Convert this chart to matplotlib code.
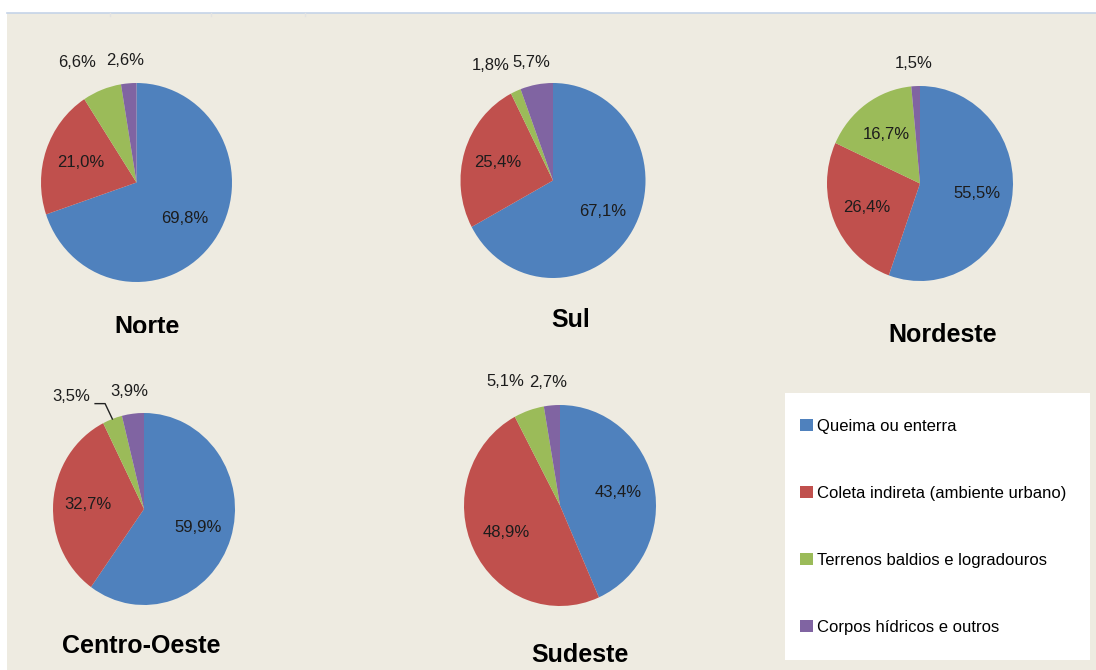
import matplotlib
matplotlib.use('Agg')
import matplotlib.pyplot as plt
import numpy as np
from matplotlib.patches import Rectangle, Patch
from matplotlib.lines import Line2D
from matplotlib.transforms import Bbox, TransformedBbox

# dados (%)
categorias = ['Queima ou enterra', 'Coleta indireta (ambiente urbano)',
              'Terrenos baldios e logradouros', 'Corpos hídricos e outros']
regioes = ['Norte', 'Sul', 'Nordeste', 'Centro-Oeste', 'Sudeste']
norte = [69.8, 21.0, 6.6, 2.6]
sul = [67.1, 25.4, 1.8, 5.7]
nordeste = [55.5, 26.4, 16.7, 1.5]
centro_oeste = [59.9, 32.7, 3.5, 3.9]
sudeste = [43.4, 48.9, 5.1, 2.7]
valores = [norte, sul, nordeste, centro_oeste, sudeste]

cores = ['#4F81BD', '#C0504D', '#9BBB59', '#8064A2']
fundo = '#EEEBE1'

W, H = 1096, 670

# posicao de cada pizza em pixels: centro x, centro y, raio x, raio y
caixas = [(136.5, 182.5, 95.5, 99.5),
          (553, 180.5, 92.5, 97.5),
          (920, 183.5, 93, 97.5),
          (144, 509, 91, 96),
          (560, 505.5, 96, 100.5)]
pos_titulos = [(147, 327), (571, 320), (943, 335), (141, 646), (580, 655)]

# rotulos pequenos ficam fora da pizza (desvio de angulo, distancia)
desvio_fora = [None, None, (6, 1.36), (0.7, 1.23)]

plt.rcParams['font.family'] = ['Liberation Sans', 'DejaVu Sans']


def fx(px):
    return px / W


def fy(py):
    return 1 - py / H


def fmt(v):
    return ('%.1f%%' % v).replace('.', ',')


fig = plt.figure(figsize=(W / 100, H / 100), dpi=100, facecolor='white')

# fundo bege e linha superior
fig.patches.append(Rectangle((fx(7), 0), 1 - fx(7), fy(13), transform=fig.transFigure,
                             facecolor=fundo, edgecolor='none', zorder=-10))
fig.lines.append(Line2D([fx(7), 1], [fy(12.5), fy(12.5)], transform=fig.transFigure,
                        color='#C5D3E8', lw=1.2, zorder=-9))
for xs in [110, 211, 305]:
    fig.lines.append(Line2D([fx(xs), fx(xs)], [fy(13), fy(16)], transform=fig.transFigure,
                            color='#E2E2E2', lw=1, zorder=-9))

for k, (nome, vals) in enumerate(zip(regioes, valores)):
    cx, cy, rx, ry = caixas[k]
    ax = fig.add_axes([fx(cx - rx), fy(cy + ry), 2 * rx / W, 2 * ry / H])
    wedges, _ = ax.pie(vals, colors=cores, startangle=90, counterclock=False,
                       wedgeprops=dict(linewidth=0))
    ax.set_xlim(-1, 1)
    ax.set_ylim(-1, 1)
    ax.set_aspect('auto')
    ax.axis('off')

    for i, (w, v) in enumerate(zip(wedges, vals)):
        meio = (w.theta1 + w.theta2) / 2
        if v >= 10:
            ang, dist = meio, 0.62
        else:
            da, dist = desvio_fora[i]
            ang = meio + da
            if nome == 'Centro-Oeste' and i == 2:
                ang, dist = meio + 14, 1.42
                ex, ey = np.cos(np.radians(meio)), np.sin(np.radians(meio))
                ax.plot([ex - 0.19, ex - 0.08, ex], [ey + 0.16, ey + 0.16, ey],
                        color='#222222', lw=1, clip_on=False)
        t = np.radians(ang)
        ax.text(dist * np.cos(t), dist * np.sin(t), fmt(v), ha='center', va='center',
                fontsize=12, color='#1c1c1c', clip_on=False)

    tx, ty = pos_titulos[k]
    tt = fig.text(fx(tx), fy(ty), nome, ha='center', va='center', fontsize=18,
                  fontweight='bold', color='black')
    if nome == 'Norte':
        # o titulo aparece cortado na imagem original
        tt.set_clip_box(TransformedBbox(Bbox([[0, fy(333)], [1, 1]]), fig.transFigure))
        tt.set_clip_on(True)

# legenda
fig.patches.append(Rectangle((fx(785), fy(660)), (1090 - 785) / W, (660 - 393) / H,
                             transform=fig.transFigure, facecolor='white',
                             edgecolor='none', zorder=1))
handles = [Patch(facecolor=c, edgecolor='none') for c in cores]
fig.legend(handles, categorias, loc='center left', bbox_to_anchor=(fx(800), fy(527)),
           frameon=False, borderpad=0, borderaxespad=0, fontsize=12,
           handlelength=0.78, handleheight=0.72, handletextpad=0.25,
           labelspacing=3.11)

fig.savefig('out.png', dpi=100, facecolor='white')
